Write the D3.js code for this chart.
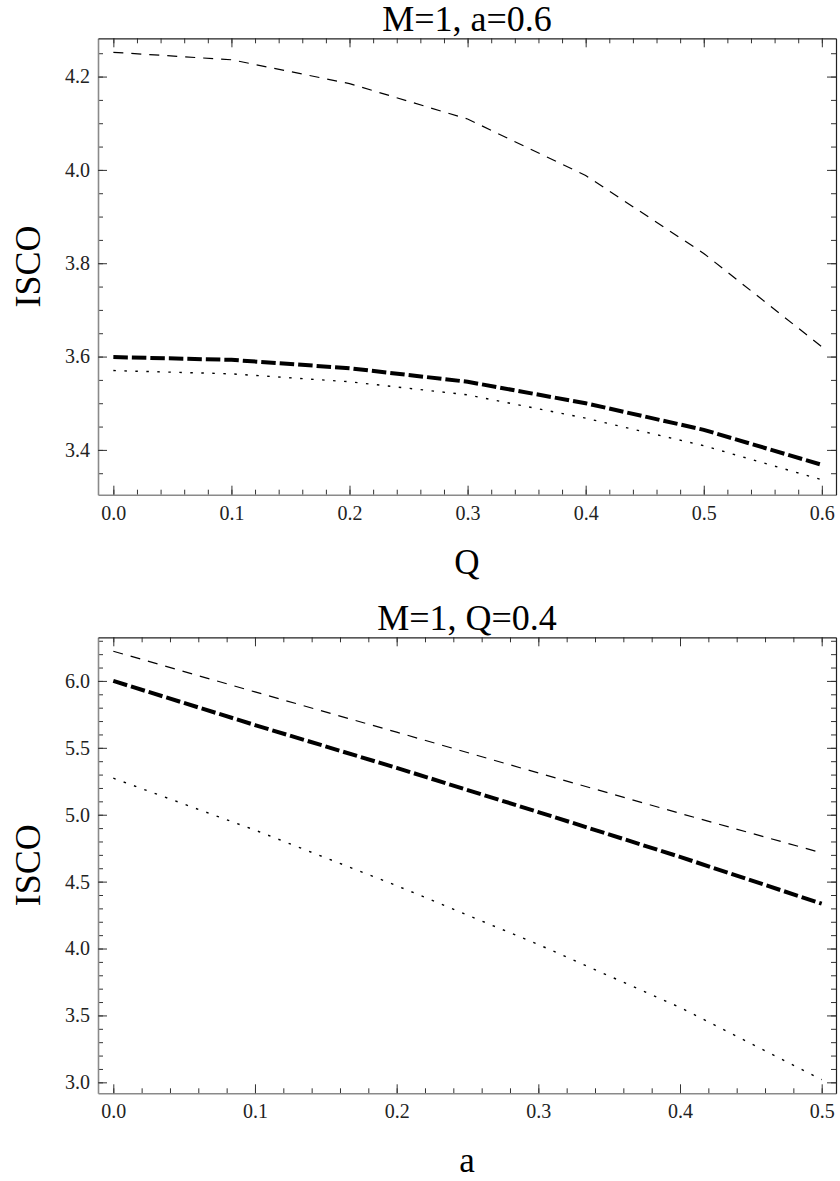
<!DOCTYPE html>
<html>
<head>
<meta charset="utf-8">
<script src="https://cdn.jsdelivr.net/npm/d3@7"></script>
<style>
  body { margin: 0; background: #fff; }
  svg text { font-family: "Liberation Serif", "Times New Roman", serif !important; }
</style>
</head>
<body>
<div class="chart"></div>
<script>
// top panel: ISCO vs Q at M=1, a=0.6
const qValues = [0.0, 0.1, 0.2, 0.3, 0.4, 0.5, 0.6];
const qThinDashed = [4.252, 4.236, 4.185, 4.109, 3.988, 3.821, 3.621];
const qThickDashed = [3.599, 3.593, 3.575, 3.546, 3.500, 3.443, 3.368];
const qDotted = [3.570, 3.563, 3.546, 3.518, 3.468, 3.409, 3.336];
const qTicksX = [0.0, 0.1, 0.2, 0.3, 0.4, 0.5, 0.6];
const qTicksY = [3.4, 3.6, 3.8, 4.0, 4.2];

// bottom panel: ISCO vs a at M=1, Q=0.4
const aValues = [0.0, 0.1, 0.2, 0.3, 0.4, 0.5];
const aThinDashed = [6.222, 5.918, 5.617, 5.312, 5.010, 4.715];
const aThickDashed = [6.0, 5.670, 5.350, 5.020, 4.685, 4.335];
const aDotted = [5.273, 4.885, 4.470, 4.030, 3.560, 3.020];
const aTicksX = [0.0, 0.1, 0.2, 0.3, 0.4, 0.5];
const aTicksY = [3.0, 3.5, 4.0, 4.5, 5.0, 5.5, 6.0];

const width = 840,
  height = 1181;
const serif = '"Liberation Serif", "Times New Roman", serif';

const svg = d3
  .select(".chart")
  .append("svg")
  .attr("width", width)
  .attr("height", height)
  .attr("font-family", serif);

// line looks: thin dashed, thick dashed, dotted
const styles = {
  thin: { w: 1.2, dash: "10,8" },
  thick: { w: 4, dash: "14.5,4" },
  dot: { w: 1.4, dash: "2.5,8.5" },
};

function drawPanel(p) {
  const x = d3.scaleLinear().domain(p.xDomain).range([p.left, p.right]);
  const y = d3.scaleLinear().domain(p.yDomain).range([p.bottom, p.top]);
  const g = svg.append("g");
  const fmt = d3.format(".1f");

  const xMinor = d3.range(0, p.xMax + 1e-9, 0.02).map((v) => +v.toFixed(3));
  const yMinor = d3
    .range(Math.ceil(p.yDomain[0] / p.yMinorStep) * p.yMinorStep, p.yDomain[1], p.yMinorStep)
    .map((v) => +v.toFixed(3));

  // minor ticks on all four sides, pointing inward
  const minorAxes = [
    [d3.axisBottom(x).tickValues(xMinor), "translate(0," + p.bottom + ")"],
    [d3.axisTop(x).tickValues(xMinor), "translate(0," + p.top + ")"],
    [d3.axisLeft(y).tickValues(yMinor), "translate(" + p.left + ",0)"],
    [d3.axisRight(y).tickValues(yMinor), "translate(" + p.right + ",0)"],
  ];
  minorAxes.forEach(([ax, tr]) => {
    g.append("g")
      .attr("transform", tr)
      .call(ax.tickSizeInner(-5).tickSizeOuter(0).tickFormat(""))
      .call((s) => s.select(".domain").remove())
      .selectAll("line")
      .attr("stroke", "#333");
  });

  // major ticks; labels only on left and bottom
  const bottomAx = g
    .append("g")
    .attr("transform", "translate(0," + p.bottom + ")")
    .call(d3.axisBottom(x).tickValues(p.xTicks).tickSizeInner(-9).tickSizeOuter(0).tickPadding(11).tickFormat(fmt));
  const leftAx = g
    .append("g")
    .attr("transform", "translate(" + p.left + ",0)")
    .call(d3.axisLeft(y).tickValues(p.yTicks).tickSizeInner(-9).tickSizeOuter(0).tickPadding(8).tickFormat(fmt));
  const topAx = g
    .append("g")
    .attr("transform", "translate(0," + p.top + ")")
    .call(d3.axisTop(x).tickValues(p.xTicks).tickSizeInner(-9).tickSizeOuter(0).tickFormat(""));
  const rightAx = g
    .append("g")
    .attr("transform", "translate(" + p.right + ",0)")
    .call(d3.axisRight(y).tickValues(p.yTicks).tickSizeInner(-9).tickSizeOuter(0).tickFormat(""));

  [bottomAx, leftAx].forEach((a) => {
    a.attr("font-family", serif).attr("font-size", 20);
    a.select(".domain").attr("stroke", "#8a8a8a").attr("stroke-width", 1.6);
    a.selectAll("line").attr("stroke", "#333");
    a.selectAll("text").attr("font-family", serif).attr("font-size", 20).attr("fill", "#222");
  });
  [topAx, rightAx].forEach((a) => {
    a.select(".domain").attr("stroke", "#222").attr("stroke-width", 1.2);
    a.selectAll("line").attr("stroke", "#333");
  });

  // curves
  const line = d3
    .line()
    .x((d) => x(d[0]))
    .y((d) => y(d[1]));

  p.series.forEach((s) => {
    g.append("path")
      .datum(p.xs.map((v, i) => [v, s.values[i]]))
      .attr("d", line)
      .attr("fill", "none")
      .attr("stroke", "#000")
      .attr("stroke-width", styles[s.style].w)
      .attr("stroke-dasharray", styles[s.style].dash);
  });

  // titles and axis labels
  const cx = (p.left + p.right) / 2;
  g.append("text")
    .attr("x", cx)
    .attr("y", p.top - 7)
    .attr("text-anchor", "middle")
    .attr("font-size", "36px")
    .attr("fill", "#000")
    .text(p.title);

  g.append("text")
    .attr("x", cx)
    .attr("y", p.bottom + 79)
    .attr("text-anchor", "middle")
    .attr("font-size", "35px")
    .attr("fill", "#000")
    .text(p.xLabel);

  g.append("text")
    .attr("transform", "translate(40," + (p.top + p.bottom) / 2 + ") rotate(-90)")
    .attr("text-anchor", "middle")
    .attr("font-size", "36px")
    .attr("fill", "#000")
    .text("ISCO");
}

drawPanel({
  left: 98,
  right: 836,
  top: 38.3,
  bottom: 494.7,
  xDomain: [-0.013, 0.612],
  yDomain: [3.304, 4.282],
  xMax: 0.6,
  yMinorStep: 0.05,
  xTicks: qTicksX,
  yTicks: qTicksY,
  xs: qValues,
  title: "M=1, a=0.6",
  xLabel: "Q",
  series: [
    { values: qDotted, style: "dot" },
    { values: qThinDashed, style: "thin" },
    { values: qThickDashed, style: "thick" },
  ],
});

drawPanel({
  left: 98,
  right: 836,
  top: 637.3,
  bottom: 1093.3,
  xDomain: [-0.0108, 0.5101],
  yDomain: [2.918, 6.326],
  xMax: 0.5,
  yMinorStep: 0.1,
  xTicks: aTicksX,
  yTicks: aTicksY,
  xs: aValues,
  title: "M=1, Q=0.4",
  xLabel: "a",
  series: [
    { values: aDotted, style: "dot" },
    { values: aThinDashed, style: "thin" },
    { values: aThickDashed, style: "thick" },
  ],
});
</script>
</body>
</html>
